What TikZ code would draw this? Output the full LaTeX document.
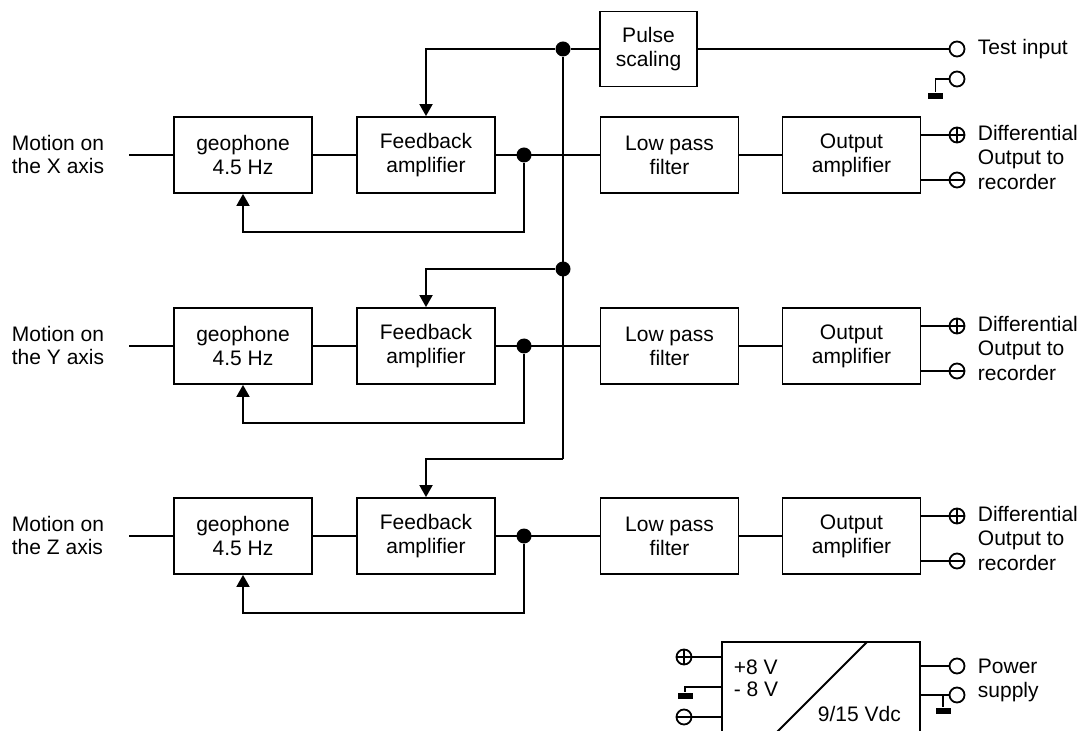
\documentclass[tikz,border=0pt]{standalone}
\usepackage{fontspec}
\setmainfont{Liberation Sans}
\usetikzlibrary{arrows.meta}
\begin{document}
\begin{tikzpicture}[x=0.5pt,y=-0.5pt,line width=0.9pt,font=\fontsize{10.5}{12}\selectfont]
				\tikzstyle{block}=[draw,rectangle,minimum width=69pt,minimum height=38pt,align=center,inner sep=1pt]
				\tikzstyle{dot}=[circle,fill,inner sep=0pt,minimum size=7.5pt]
				\tikzstyle{term}=[circle,draw,fill=white,inner sep=0pt,minimum size=7.5pt]
				\tikzstyle{pterm}=[term,path picture={\draw (path picture bounding box.north) -- (path picture bounding box.south) (path picture bounding box.west) -- (path picture bounding box.east);}]
				\tikzstyle{mterm}=[term,path picture={\draw (path picture bounding box.west) -- (path picture bounding box.east);}]
				\tikzstyle{gnd}=[rectangle,fill,inner sep=0pt,minimum width=7.5pt,minimum height=3pt]
				\tikzstyle{lbl}=[align=left,anchor=west,inner sep=0pt]
				\tikzstyle{feed}=[-{Triangle[length=6pt,width=6.5pt]}]
				\clip (0,0) rectangle (1085,731);
				% pulse scaling and test input
				\node[block,minimum width=48.5pt,minimum height=37.5pt] (pulse) at (648.5,49) {Pulse\\scaling};
				\node[dot] (pdot) at (563,49) {};
				\node[term] (tin) at (957,49) {};
				\node[lbl] (tinl) at (977,49) {Test input};
				\node[term] (tgnd) at (957,79) {};
				\node[gnd] (tgb) at (935.5,96) {};
				\node[dot] (bdot) at (563,269) {};
				\coordinate (bend) at (563,459);
				% X axis
				\node[lbl,font=\fontsize{10.5}{11.5}\selectfont] (mx) at (11,154) {Motion on\\the X axis};
				\coordinate (inx) at (129,155);
				\node[block] (geox) at (243,155) {geophone\\4.5 Hz};
				\node[block] (fbx) at (426,155) {Feedback\\amplifier};
				\node[dot] (dx) at (524,155) {};
				\node[block] (lpx) at (669.5,155) {Low pass\\filter};
				\node[block] (outx) at (851.5,155) {Output\\amplifier};
				\coordinate (lbx) at (243,232);
				\node[pterm] (opx) at (957,135) {};
				\node[mterm] (omx) at (957,180) {};
				\node[lbl,font=\fontsize{10.5}{12.25}\selectfont] (dfx) at (977,157) {Differential\\Output to\\recorder};
				% Y axis
				\node[lbl,font=\fontsize{10.5}{11.5}\selectfont] (my) at (11,345) {Motion on\\the Y axis};
				\coordinate (iny) at (129,346);
				\node[block] (geoy) at (243,346) {geophone\\4.5 Hz};
				\node[block] (fby) at (426,346) {Feedback\\amplifier};
				\node[dot] (dy) at (524,346) {};
				\node[block] (lpy) at (669.5,346) {Low pass\\filter};
				\node[block] (outy) at (851.5,346) {Output\\amplifier};
				\coordinate (lby) at (243,423);
				\node[pterm] (opy) at (957,326) {};
				\node[mterm] (omy) at (957,371) {};
				\node[lbl,font=\fontsize{10.5}{12.25}\selectfont] (dfy) at (977,348) {Differential\\Output to\\recorder};
				% Z axis
				\node[lbl,font=\fontsize{10.5}{11.5}\selectfont] (mz) at (11,535) {Motion on\\the Z axis};
				\coordinate (inz) at (129,536);
				\node[block] (geoz) at (243,536) {geophone\\4.5 Hz};
				\node[block] (fbz) at (426,536) {Feedback\\amplifier};
				\node[dot] (dz) at (524,536) {};
				\node[block] (lpz) at (669.5,536) {Low pass\\filter};
				\node[block] (outz) at (851.5,536) {Output\\amplifier};
				\coordinate (lbz) at (243,613);
				\node[pterm] (opz) at (957,516) {};
				\node[mterm] (omz) at (957,561) {};
				\node[lbl,font=\fontsize{10.5}{12.25}\selectfont] (dfz) at (977,538) {Differential\\Output to\\recorder};
				% power supply
				\node[draw,rectangle,minimum width=99pt,minimum height=60pt] (pwr) at (821,702) {};
				\coordinate (dg1) at (867,642);
				\coordinate (dg2) at (757,752);
				\node[lbl] (v8p) at (733,667) {+8 V};
				\node[lbl] (v8m) at (733,689) {- 8 V};
				\node[lbl] (vdc) at (817,714) {9/15 Vdc};
				\node[pterm] (lp8) at (684,657) {};
				\node[mterm] (lm8) at (684,717) {};
				\node[gnd] (lgb) at (685,695.5) {};
				\coordinate (lgl) at (722,687);
				\node[term] (pw) at (957,666) {};
				\node[term] (sp) at (957,695) {};
				\node[gnd] (rgb) at (943,711) {};
				\node[lbl] (pwl) at (977,666) {Power};
				\node[lbl] (spl) at (977,692) {supply};
				% connections
				\draw (pdot) -- (pulse);
				\draw (pulse) -- (tin);
				\draw (tgnd.west) -| (tgb.north);
				\draw (pdot) -- (bend);
				\draw[feed] (pdot) -| (fbx.north);
				\draw[feed] (bdot) -| (fby.north);
				\draw[feed] (bend) -| (fbz.north);
				\draw (inx) -- (geox); \draw (geox) -- (fbx); \draw (fbx) -- (lpx); \draw (lpx) -- (outx);
				\draw[feed] (dx) |- (lbx) -- (geox.south);
				\draw (opx.west -| outx.east) -- (opx.west);
				\draw (omx.west -| outx.east) -- (omx.west);
				\draw (iny) -- (geoy); \draw (geoy) -- (fby); \draw (fby) -- (lpy); \draw (lpy) -- (outy);
				\draw[feed] (dy) |- (lby) -- (geoy.south);
				\draw (opy.west -| outy.east) -- (opy.west);
				\draw (omy.west -| outy.east) -- (omy.west);
				\draw (inz) -- (geoz); \draw (geoz) -- (fbz); \draw (fbz) -- (lpz); \draw (lpz) -- (outz);
				\draw[feed] (dz) |- (lbz) -- (geoz.south);
				\draw (opz.west -| outz.east) -- (opz.west);
				\draw (omz.west -| outz.east) -- (omz.west);
				\draw (dg1) -- (dg2);
				\draw (lp8.east) -- (lp8 -| pwr.west);
				\draw (lm8.east) -- (lm8 -| pwr.west);
				\draw (lgl) -| (lgb.north);
				\draw (pw.west -| pwr.east) -- (pw.west);
				\draw (sp.west -| pwr.east) -- (sp.west);
				\draw (rgb.north) -- (rgb.north |- sp);
\end{tikzpicture}
\end{document}
